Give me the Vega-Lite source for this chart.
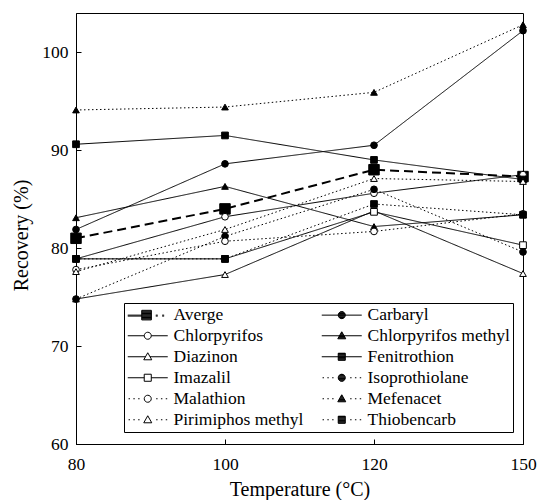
{
  "$schema": "https://vega.github.io/schema/vega-lite/v6.json",
  "width": 447,
  "height": 431,
  "autosize": {"type": "none"},
  "padding": {"left": 76, "top": 13, "right": 14, "bottom": 56},
  "background": "white",
  "config": {
    "font": "Liberation Serif",
    "view": {"stroke": "black", "strokeWidth": 1},
    "axis": {
      "labelFont": "Liberation Serif",
      "labelFontSize": 17.5,
      "titleFont": "Liberation Serif",
      "titleFontSize": 20,
      "titleFontWeight": "normal",
      "labelColor": "black",
      "titleColor": "black",
      "domainColor": "black",
      "tickColor": "black",
      "grid": false
    }
  },
  "data": {
    "values": [
      {"series": "Averge", "t": 80, "r": 81.0}, {"series": "Averge", "t": 100, "r": 84.0}, {"series": "Averge", "t": 120, "r": 88.0}, {"series": "Averge", "t": 150, "r": 87.3},
      {"series": "Carbaryl", "t": 80, "r": 81.9}, {"series": "Carbaryl", "t": 100, "r": 88.6}, {"series": "Carbaryl", "t": 120, "r": 90.5}, {"series": "Carbaryl", "t": 150, "r": 102.2},
      {"series": "Chlorpyrifos", "t": 80, "r": 78.9}, {"series": "Chlorpyrifos", "t": 100, "r": 83.2}, {"series": "Chlorpyrifos", "t": 120, "r": 85.6}, {"series": "Chlorpyrifos", "t": 150, "r": 87.5},
      {"series": "Chlorpyrifos methyl", "t": 80, "r": 83.1}, {"series": "Chlorpyrifos methyl", "t": 100, "r": 86.3}, {"series": "Chlorpyrifos methyl", "t": 120, "r": 82.2}, {"series": "Chlorpyrifos methyl", "t": 150, "r": 83.4},
      {"series": "Diazinon", "t": 80, "r": 74.8}, {"series": "Diazinon", "t": 100, "r": 77.3}, {"series": "Diazinon", "t": 120, "r": 83.8}, {"series": "Diazinon", "t": 150, "r": 77.4},
      {"series": "Fenitrothion", "t": 80, "r": 90.6}, {"series": "Fenitrothion", "t": 100, "r": 91.5}, {"series": "Fenitrothion", "t": 120, "r": 89.0}, {"series": "Fenitrothion", "t": 150, "r": 87.0},
      {"series": "Imazalil", "t": 80, "r": 78.9}, {"series": "Imazalil", "t": 100, "r": 78.9}, {"series": "Imazalil", "t": 120, "r": 83.7}, {"series": "Imazalil", "t": 150, "r": 80.3},
      {"series": "Isoprothiolane", "t": 80, "r": 74.8}, {"series": "Isoprothiolane", "t": 100, "r": 81.2}, {"series": "Isoprothiolane", "t": 120, "r": 86.0}, {"series": "Isoprothiolane", "t": 150, "r": 79.6},
      {"series": "Malathion", "t": 80, "r": 77.8}, {"series": "Malathion", "t": 100, "r": 80.7}, {"series": "Malathion", "t": 120, "r": 81.7}, {"series": "Malathion", "t": 150, "r": 83.5},
      {"series": "Mefenacet", "t": 80, "r": 94.1}, {"series": "Mefenacet", "t": 100, "r": 94.4}, {"series": "Mefenacet", "t": 120, "r": 95.9}, {"series": "Mefenacet", "t": 150, "r": 102.8},
      {"series": "Pirimiphos methyl", "t": 80, "r": 77.6}, {"series": "Pirimiphos methyl", "t": 100, "r": 81.9}, {"series": "Pirimiphos methyl", "t": 120, "r": 87.1}, {"series": "Pirimiphos methyl", "t": 150, "r": 86.8},
      {"series": "Thiobencarb", "t": 80, "r": 78.9}, {"series": "Thiobencarb", "t": 100, "r": 78.9}, {"series": "Thiobencarb", "t": 120, "r": 84.5}, {"series": "Thiobencarb", "t": 150, "r": 83.4}
    ]
  },
  "encoding": {
    "x": {
      "field": "t",
      "type": "ordinal",
      "scale": {"type": "point", "padding": 0},
      "axis": {"title": "Temperature (°C)", "labelAngle": 0, "tickSize": -5, "labelPadding": 16, "titlePadding": 7}
    },
    "y": {
      "field": "r",
      "type": "quantitative",
      "scale": {"domain": [60, 104], "nice": false, "zero": false},
      "axis": {"title": "Recovery (%)", "values": [60, 70, 80, 90, 100], "tickSize": -5, "labelPadding": 13, "titlePadding": 10, "titleY": 222}
    }
  },
  "layer": [
    {
      "transform": [{"filter": "datum.series !== 'Averge'"}],
      "mark": {"type": "line", "color": "black", "strokeWidth": 1},
      "encoding": {
        "detail": {"field": "series", "type": "nominal"},
        "strokeDash": {
          "field": "series",
          "type": "nominal",
          "scale": {
            "domain": ["Carbaryl", "Chlorpyrifos", "Chlorpyrifos methyl", "Diazinon", "Fenitrothion", "Imazalil", "Isoprothiolane", "Malathion", "Mefenacet", "Pirimiphos methyl", "Thiobencarb"],
            "range": [[1, 0], [1, 0], [1, 0], [1, 0], [1, 0], [1, 0], [1.5, 2.5], [1.5, 2.5], [1.5, 2.5], [1.5, 2.5], [1.5, 2.5]]
          },
          "legend": null
        }
      }
    },
    {
      "transform": [{"filter": "datum.series === 'Averge'"}],
      "mark": {"type": "line", "color": "black", "strokeWidth": 2, "strokeDash": [9, 5]},
      "encoding": {}
    },
    {
      "mark": {"type": "point", "filled": true, "stroke": "black", "strokeWidth": 1, "opacity": 1},
      "encoding": {
        "shape": {
          "field": "series",
          "type": "nominal",
          "scale": {
            "domain": ["Averge", "Carbaryl", "Chlorpyrifos", "Chlorpyrifos methyl", "Diazinon", "Fenitrothion", "Imazalil", "Isoprothiolane", "Malathion", "Mefenacet", "Pirimiphos methyl", "Thiobencarb"],
            "range": ["square", "circle", "circle", "triangle-up", "triangle-up", "square", "square", "circle", "circle", "triangle-up", "triangle-up", "square"]
          },
          "legend": null
        },
        "fill": {
          "field": "series",
          "type": "nominal",
          "scale": {
            "domain": ["Averge", "Carbaryl", "Chlorpyrifos", "Chlorpyrifos methyl", "Diazinon", "Fenitrothion", "Imazalil", "Isoprothiolane", "Malathion", "Mefenacet", "Pirimiphos methyl", "Thiobencarb"],
            "range": ["black", "black", "white", "black", "white", "black", "white", "black", "white", "black", "white", "black"]
          },
          "legend": null
        },
        "size": {"condition": {"test": "datum.series === 'Averge'", "value": 110}, "value": 45}
      }
    },
    {
      "transform": [{"filter": "false"}],
      "mark": {"type": "point", "filled": false, "color": "black", "opacity": 1, "strokeWidth": 1},
      "encoding": {
        "shape": {
          "field": "series",
          "type": "nominal",
          "scale": {
            "domain": ["Averge", "Chlorpyrifos", "Diazinon", "Imazalil", "Malathion", "Pirimiphos methyl", "Carbaryl", "Chlorpyrifos methyl", "Fenitrothion", "Isoprothiolane", "Mefenacet", "Thiobencarb"],
            "range": [
              "M-1,0H0.75M-1,0.12H0.75M0.75,-0.6H1.95V0.6H0.75ZM0.75,-0.5H1.95M0.75,-0.4H1.95M0.75,-0.3H1.95M0.75,-0.2H1.95M0.75,-0.1H1.95M0.75,0H1.95M0.75,0.1H1.95M0.75,0.2H1.95M0.75,0.3H1.95M0.75,0.4H1.95M0.75,0.5H1.95M2.5,0h0.25M2.5,0.12h0.25M3.3,0h0.25M3.3,0.12h0.25",
              "M-1,0H1.06M1.94,0H4M1.94,0A0.44,0.44,0,0,1,1.06,0A0.44,0.44,0,0,1,1.94,0Z",
              "M-1,0H1.22M1.78,0H4M1.5,-0.5L2,0.38L1,0.38Z",
              "M-1,0H1.06M1.94,0H4M1.06,-0.44H1.94V0.44H1.06Z",
              "M-0.9,0h0.18M-0.3,0h0.18M0.3,0h0.18M2.55,0h0.18M3.15,0h0.18M3.75,0h0.18M1.94,0A0.44,0.44,0,0,1,1.06,0A0.44,0.44,0,0,1,1.94,0Z",
              "M-0.9,0h0.18M-0.3,0h0.18M0.3,0h0.18M2.55,0h0.18M3.15,0h0.18M3.75,0h0.18M1.5,-0.5L2,0.38L1,0.38Z",
              "M-1,0H4M1.94,0A0.44,0.44,0,0,1,1.06,0A0.44,0.44,0,0,1,1.94,0ZM1.317,-0.4H1.683M1.178,-0.3H1.822M1.108,-0.2H1.892M1.072,-0.1H1.928M1.06,0H1.94M1.072,0.1H1.928M1.108,0.2H1.892M1.178,0.3H1.822M1.317,0.4H1.683",
              "M-1,0H4M1.5,-0.5L2,0.38L1,0.38ZM1.443,-0.4H1.557M1.386,-0.3H1.614M1.33,-0.2H1.67M1.273,-0.1H1.727M1.216,0H1.784M1.159,0.1H1.841M1.102,0.2H1.898M1.046,0.3H1.954",
              "M-1,0H4M1.06,-0.44H1.94V0.44H1.06ZM1.06,-0.4H1.94M1.06,-0.3H1.94M1.06,-0.2H1.94M1.06,-0.1H1.94M1.06,0H1.94M1.06,0.1H1.94M1.06,0.2H1.94M1.06,0.3H1.94M1.06,0.4H1.94",
              "M-0.9,0h0.18M-0.3,0h0.18M0.3,0h0.18M2.55,0h0.18M3.15,0h0.18M3.75,0h0.18M1.94,0A0.44,0.44,0,0,1,1.06,0A0.44,0.44,0,0,1,1.94,0ZM1.317,-0.4H1.683M1.178,-0.3H1.822M1.108,-0.2H1.892M1.072,-0.1H1.928M1.06,0H1.94M1.072,0.1H1.928M1.108,0.2H1.892M1.178,0.3H1.822M1.317,0.4H1.683",
              "M-0.9,0h0.18M-0.3,0h0.18M0.3,0h0.18M2.55,0h0.18M3.15,0h0.18M3.75,0h0.18M1.5,-0.5L2,0.38L1,0.38ZM1.443,-0.4H1.557M1.386,-0.3H1.614M1.33,-0.2H1.67M1.273,-0.1H1.727M1.216,0H1.784M1.159,0.1H1.841M1.102,0.2H1.898M1.046,0.3H1.954",
              "M-0.9,0h0.18M-0.3,0h0.18M0.3,0h0.18M2.55,0h0.18M3.15,0h0.18M3.75,0h0.18M1.06,-0.44H1.94V0.44H1.06ZM1.06,-0.4H1.94M1.06,-0.3H1.94M1.06,-0.2H1.94M1.06,-0.1H1.94M1.06,0H1.94M1.06,0.1H1.94M1.06,0.2H1.94M1.06,0.3H1.94M1.06,0.4H1.94"
            ]
          },
          "legend": {
            "title": null,
            "orient": "none",
            "legendX": 48,
            "legendY": 290,
            "columns": 2,
            "strokeColor": "black",
            "fillColor": "white",
            "padding": 3,
            "labelFont": "Liberation Serif",
            "labelFontSize": 17.5,
            "labelColor": "black",
            "labelLimit": 0,
            "labelOffset": 29,
            "symbolSize": 256,
            "symbolStrokeWidth": 1,
            "rowPadding": 2,
            "columnPadding": 15
          }
        }
      }
    }
  ],
  "resolve": {"scale": {"shape": "independent"}}
}
